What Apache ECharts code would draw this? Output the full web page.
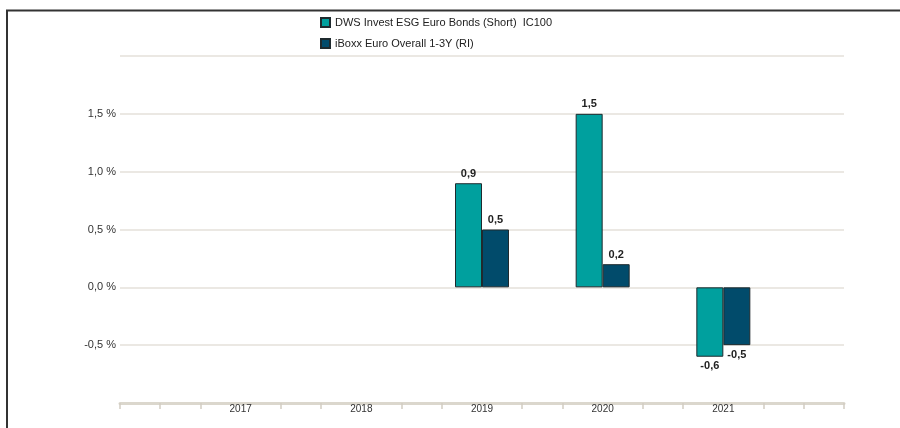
<!DOCTYPE html>
<html>
<head>
<meta charset="utf-8">
<script src="https://cdn.jsdelivr.net/npm/echarts@6/dist/echarts.min.js"></script>
<style>
html,body{margin:0;padding:0;background:#fff;}
#c{width:900px;height:428px;}
</style>
</head>
<body>
<div id="c"></div>
<script>
const categories = ['2017', '2018', '2019', '2020', '2021'];
const seriesNames = ['DWS Invest ESG Euro Bonds (Short)  IC100', 'iBoxx Euro Overall 1-3Y (RI)'];
const fundValues = [null, null, 0.9, 1.5, -0.6];
const indexValues = [null, null, 0.5, 0.2, -0.5];
const yTickLabels = [-1.0, -0.5, 0.0, 0.5, 1.0, 1.5, 2.0];

const FONT = 'Liberation Sans, Arial, sans-serif';
const axisCats = [''].concat(categories, ['']);
const tickCats = Array.from({length: 19}, (_, i) => String(i));

const fmt = v => v.toFixed(1).replace('.', ',');

const chart = echarts.init(document.getElementById('c'), null, {renderer: 'canvas'});
const labelStyle = {
  show: true,
  fontFamily: FONT,
  fontSize: 11,
  fontWeight: 'bold',
  color: '#222',
  distance: 4,
  formatter: p => fmt(p.value)
};
function mkData(arr) {
  return [null].concat(arr.map(v => v == null ? null : {
    value: v,
    label: {position: v < 0 ? 'bottom' : 'top'}
  }), [null]);
}
chart.setOption({
  animation: false,
  backgroundColor: '#fff',
  textStyle: {fontFamily: FONT},
  legend: {
    orient: 'vertical',
    left: 315,
    top: 12,
    itemWidth: 9,
    itemHeight: 9,
    itemGap: 10,
    icon: 'rect',
    textStyle: {fontFamily: FONT, fontSize: 11, color: '#222'},
    data: seriesNames
  },
  grid: {left: 120, right: 56, top: 56, bottom: 25, containLabel: false},
  xAxis: [{
    type: 'category',
    data: axisCats,
    boundaryGap: false,
    axisLine: {show: true, onZero: false, lineStyle: {color: '#dbd7cd', width: 3}},
    axisTick: {show: false},
    axisLabel: {show: true, interval: 0, margin: 1, fontFamily: FONT, fontSize: 10, color: '#333'},
    splitLine: {show: false}
  }, {
    type: 'category',
    data: tickCats,
    position: 'bottom',
    boundaryGap: false,
    axisLine: {show: false, onZero: false},
    axisTick: {show: true, length: 6, interval: (i) => i % 3 !== 0 || i === 0 || i === 18,
               lineStyle: {color: '#d2cdc2', width: 1.5}},
    axisLabel: {show: false},
    splitLine: {show: false}
  }],
  yAxis: {
    type: 'value',
    min: -1,
    max: 2,
    interval: 0.5,
    axisLine: {show: false},
    axisTick: {show: false},
    axisLabel: {
      margin: 4,
      fontFamily: FONT,
      fontSize: 11,
      color: '#333',
      formatter: v => (v <= -1 || v >= 2) ? '' : fmt(v) + ' %'
    },
    splitLine: {show: true, lineStyle: {color: '#e4e1da', width: 1.5}}
  },
  series: [{
    name: seriesNames[0],
    type: 'bar',
    xAxisIndex: 0,
    data: mkData(fundValues),
    barWidth: 27,
    barGap: '0%',
    itemStyle: {color: '#00a09e', borderColor: '#1f2a2e', borderWidth: 1},
    label: labelStyle
  }, {
    name: seriesNames[1],
    type: 'bar',
    xAxisIndex: 0,
    data: mkData(indexValues),
    barWidth: 27,
    barGap: '0%',
    itemStyle: {color: '#014b6b', borderColor: '#1f2a2e', borderWidth: 1},
    label: labelStyle
  }],
  graphic: [{
    type: 'polyline',
    shape: {points: [[7, 428], [7, 10.5], [900, 10.5]]},
    style: {stroke: '#333', lineWidth: 2, fill: null},
    silent: true
  }]
});
</script>
</body>
</html>
